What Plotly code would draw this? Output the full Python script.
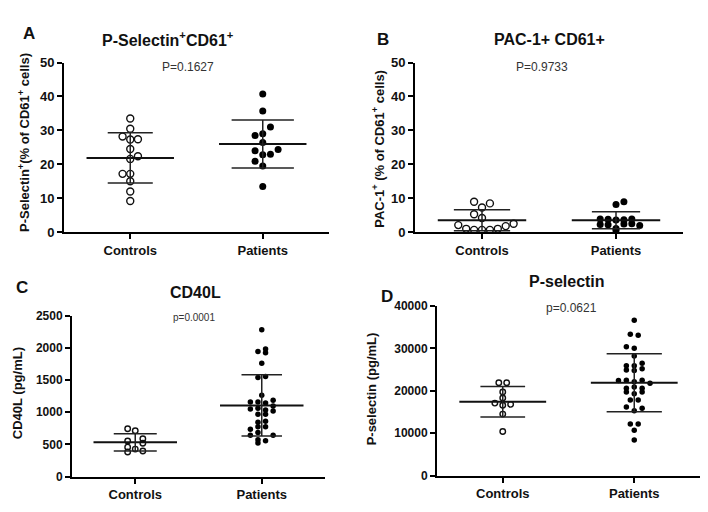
import plotly.graph_objects as go

# ---------------- data ----------------
groups = ["Controls", "Patients"]

a_controls = [33.5, 30.5, 28.2, 27.3, 27.4, 24.5, 21.6, 22.4, 17.2, 17.2, 15.0, 12.0, 9.2]
a_patients = [40.7, 35.7, 31.0, 29.0, 28.5, 26.4, 24.0, 24.4, 22.8, 23.0, 20.9, 19.5, 13.5]
a_mean = [21.9, 26.0]
a_sd = [7.4, 7.1]

b_controls = [9.0, 8.5, 7.3, 5.3, 4.2, 2.1, 1.0, 0.7, 0.7, 0.7, 1.0, 1.8, 2.5]
b_patients = [9.0, 8.2, 3.9, 3.8, 3.7, 3.9, 3.6, 2.3, 2.2, 2.4, 2.5, 2.0, 1.1, 0.5]
b_mean = [3.5, 3.5]
b_sd = [3.1, 2.5]

c_controls = [743, 713, 552, 587, 517, 457, 427, 382, 397]
c_patients = [2279, 1943, 1983, 1923, 1762, 1541, 1556, 1265, 1160, 1160, 1145, 1185,
              1060, 1050, 1035, 1095, 1020, 970, 970, 843, 858, 774, 774, 734, 684,
              643, 643, 572, 557, 522]
c_mean = [532, 1105]
c_sd = [133, 475]

d_controls = [21900, 21900, 19700, 18300, 17100, 16600, 16800, 14500, 10400]
d_patients = [36600, 33300, 33100, 30400, 30000, 28200, 25900, 25900, 26500,
              24900, 24800, 25200, 22400, 22500, 22100, 22500, 21800,
              20600, 20900, 20600, 19700, 19300, 19700, 17800, 17800,
              16200, 15900, 15300, 12200, 12200, 10700, 8400]
d_mean = [17400, 21900]
d_sd = [3600, 6850]

# ------------- jitter slots (layout, not data) -------------
a_c_slot = [0, 0, -1, 0, 1, 0, 0, 1, -1, 0, 0, 0, 0]
a_p_slot = [0, 0, 1, 0, -1, 0, -1, 2, 0, 1, -1, 0, 0]
b_c_slot = [-1, 1, 0, -1, 0, -3, -2, -1, 0, 1, 2, 3, 4]
b_p_slot = [1, 0, -2, -1, 1, 2, 0, -2, -1, 1, 2, 3, 0, 0]
c_c_slot = [-1, 0, -1, 1, 1, -1, 0, -1, 1]
c_p_slot = [0, -0.5, 0.5, 0.5, 0, -0.5, 0.5, 0, -1.5, -0.5, 0.5, 1.5,
            -0.5, -1.5, 0.5, 1.5, 1.5, -0.5, 0.5, -0.5, 0.5, -0.5, 0.5, -1.5, -0.5,
            -1.5, 1.5, -0.5, 0.5, -0.5]
d_c_slot = [-0.5, 0.5, 0, 0, -1, 0, 1, 0, 0]
d_p_slot = [0, -0.5, 0.5, -1, 0, 0, -1, 0, 1,
            -1, 0, 1, -2, -1, 0, 1, 2,
            -1, 0, 1, -1, 0, 1, -0.5, 0.5,
            -1, 1, 0, -0.5, 0.5, 0, 0]

FONT = "Liberation Sans, Arial, sans-serif"
OFF = 8                    # default page body margin
W, H = 708 - 2 * OFF, 512 - 2 * OFF


def px_x(px):
    return min(1.0, max(0.0, (px - OFF) / W))


def px_y(py):
    return min(1.0, max(0.0, 1 - (py - OFF) / H))


panels = [
    dict(key="", letter="A", title="P-Selectin<sup>+</sup>CD61<sup>+</sup>",
         ytitle="P-Selectin<sup>+</sup>(% of CD61<sup>+</sup> cells)",
         pval="P=0.1627", vals=[a_controls, a_patients], slots=[a_c_slot, a_p_slot],
         mean=a_mean, sd=a_sd, yr=[0, 50], dtick=10,
         xpx=(64, 329), ypx=(57, 232), jit=0.058, msize=7, caps=[0.17, 0.235],
         letter_xy=(29, 27), title_xy=(168, 33), p_xy=(188, 62), yt_xy=(24, 140), psize=12),
    dict(key="2", letter="B", title="PAC-1+ CD61+",
         ytitle="PAC-1<sup>+</sup> (% of CD61<sup>+</sup> cells)",
         pval="P=0.9733", vals=[b_controls, b_patients], slots=[b_c_slot, b_p_slot],
         mean=b_mean, sd=b_sd, yr=[0, 50], dtick=10,
         xpx=(415, 683), ypx=(57, 232), jit=0.059, msize=7, caps=[0.21, 0.18],
         letter_xy=(383, 33), title_xy=(549, 33), p_xy=(542, 62), yt_xy=(378, 146), psize=12),
    dict(key="3", letter="C", title="CD40L", ytitle="CD40L (pg/mL)",
         pval="p=0.0001", vals=[c_controls, c_patients], slots=[c_c_slot, c_p_slot],
         mean=c_mean, sd=c_sd, yr=[0, 2500], dtick=500,
         xpx=(72, 325), ypx=(318, 484), jit=0.06, msize=5.5, caps=[0.17, 0.16],
         letter_xy=(22, 289), title_xy=(195, 294), p_xy=(194, 320), yt_xy=(17, 398), psize=10),
    dict(key="4", letter="D", title="P-selectin", ytitle="P-selectin (pg/mL)",
         pval="p=0.0621", vals=[d_controls, d_patients], slots=[d_c_slot, d_p_slot],
         mean=d_mean, sd=d_sd, yr=[0, 40000], dtick=10000,
         xpx=(437, 701), ypx=(308, 483), jit=0.06, msize=5.5, caps=[0.17, 0.21],
         letter_xy=(387, 298), title_xy=(567, 283), p_xy=(571, 310), yt_xy=(371, 393), psize=12),
]

fig = go.Figure()
annotations = []
layout = {}

for p in panels:
    k = p["key"]
    xa, ya = "x" + k, "y" + k
    for gi, (vals, slots) in enumerate(zip(p["vals"], p["slots"])):
        xs = [gi + s * p["jit"] for s in slots]
        if gi == 0:
            marker = dict(symbol="circle-open", size=p["msize"], color="#111",
                          line=dict(width=1.4, color="#111"))
        else:
            marker = dict(symbol="circle", size=p["msize"], color="#000")
        fig.add_trace(go.Scatter(x=xs, y=vals, mode="markers", marker=marker,
                                 xaxis=xa, yaxis=ya, showlegend=False, cliponaxis=False,
                                 hoverinfo="skip"))
    # mean +/- SD
    for gi in range(2):
        m, s, c = p["mean"][gi], p["sd"][gi], p["caps"][gi]
        fig.add_trace(go.Scatter(x=[gi - 0.33, gi + 0.33], y=[m, m], mode="lines",
                                 line=dict(color="#111", width=2), xaxis=xa, yaxis=ya,
                                 showlegend=False, cliponaxis=False, hoverinfo="skip"))
        fig.add_trace(go.Scatter(x=[gi - c, gi + c, None, gi, gi, None, gi - c, gi + c],
                                 y=[m + s, m + s, None, m + s, m - s, None, m - s, m - s],
                                 mode="lines", line=dict(color="#222", width=1.5),
                                 xaxis=xa, yaxis=ya, showlegend=False, cliponaxis=False,
                                 hoverinfo="skip"))
    x0, x1 = p["xpx"]
    yt, yb = p["ypx"]
    layout["xaxis" + k] = dict(
        domain=[px_x(x0), px_x(x1)], range=[-0.5, 1.5], anchor=ya,
        tickvals=[0, 1], ticktext=groups, ticks="outside", ticklen=5, tickwidth=2,
        tickcolor="#000", showline=True, linecolor="#000", linewidth=2,
        showgrid=False, zeroline=False, fixedrange=True,
        tickfont=dict(family=FONT, size=13, color="#111", weight="bold"))
    layout["yaxis" + k] = dict(
        domain=[px_y(yb), px_y(yt)], range=p["yr"], anchor=xa, dtick=p["dtick"],
        tickformat="d", ticks="outside", ticklen=5, tickwidth=2, tickcolor="#000",
        showline=True, linecolor="#000", linewidth=2, showgrid=False, zeroline=False,
        fixedrange=True,
        tickfont=dict(family=FONT, size=13 if p["key"] in ("", "2") else 12,
                      color="#111", weight="bold"))

    def ann(text, xy, size, bold=True, angle=0, color="#111"):
        annotations.append(dict(
            text=text, x=px_x(xy[0]), y=px_y(xy[1]), xref="paper", yref="paper",
            showarrow=False, xanchor="center", yanchor="middle", textangle=angle,
            font=dict(family=FONT, size=size, color=color,
                      weight="bold" if bold else "normal")))

    ann(p["letter"], p["letter_xy"], 17)
    ann(p["title"], p["title_xy"], 16)
    ann(p["pval"], p["p_xy"], p["psize"], bold=False, color="#333")
    ann(p["ytitle"], p["yt_xy"], 13, angle=-90)

fig.update_layout(
    width=W, height=H, margin=dict(l=0, r=0, t=0, b=0),
    paper_bgcolor="white", plot_bgcolor="white",
    annotations=annotations, **layout)

fig.write_html("out.html")
